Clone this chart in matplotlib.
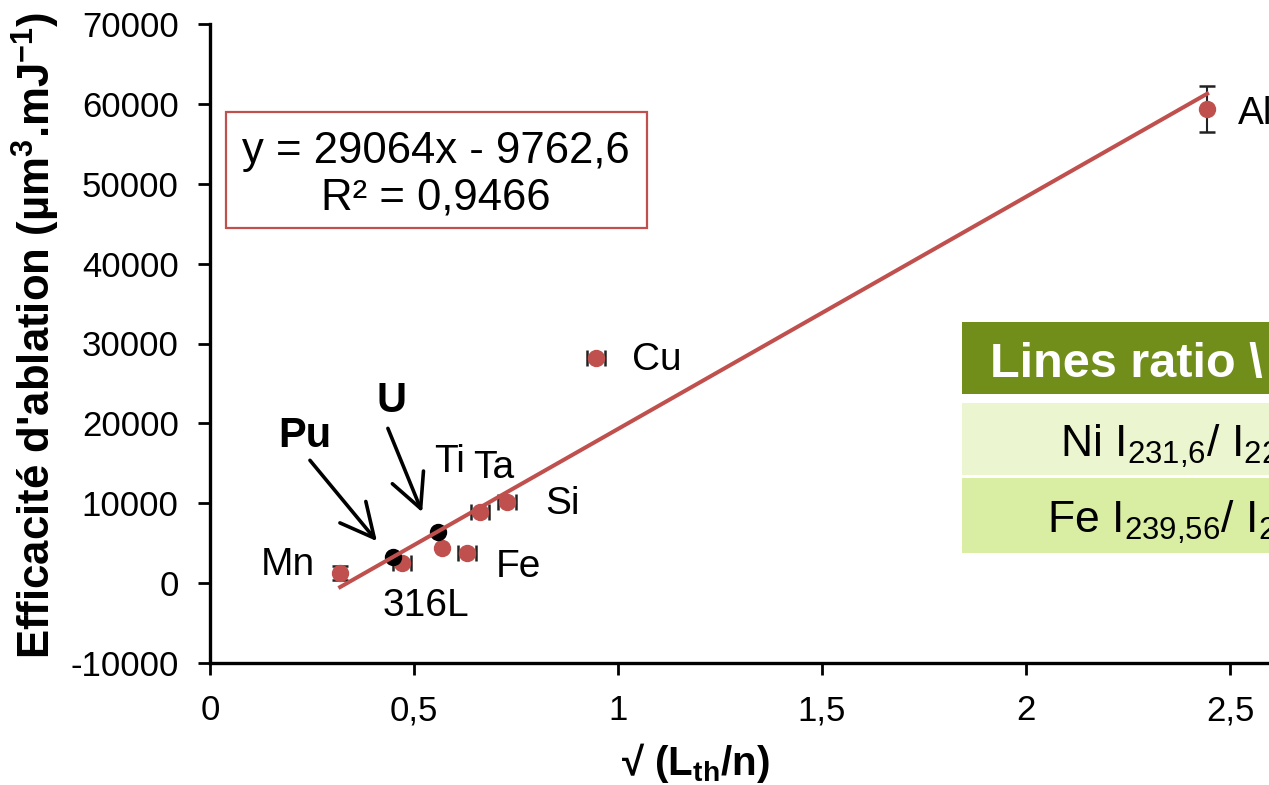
import matplotlib
matplotlib.use("Agg")
import matplotlib.pyplot as plt
from matplotlib.patches import Rectangle
from matplotlib.ticker import FuncFormatter
import numpy as np

W, H = 1269, 785

# data
red_names = ["Mn", "316L", "Ti", "Fe", "Ta", "Si", "Cu", "Al"]
red_x = [0.319, 0.471, 0.569, 0.630, 0.662, 0.728, 0.946, 2.444]
red_y = [1250, 2500, 4375, 3750, 8875, 10125, 28125, 59400]
red_yerr = [900, 0, 0, 0, 0, 0, 0, 2900]
red_xerr = [0, 0.022, 0, 0.022, 0.022, 0.022, 0.022, 0]

black_names = ["Pu", "U"]
black_x = [0.449, 0.559]
black_y = [3250, 6375]

fit_slope = 29064
fit_intercept = -9762.6
fit_r2 = 0.9466

x_ticks = [0, 0.5, 1, 1.5, 2, 2.5]
y_ticks = list(range(-10000, 70001, 10000))

table_header = "Lines ratio \\ Sample"
table_rows = [r"Ni I$_{\mathregular{231{,}6}}$/ I$_{\mathregular{221{,}6}}$",
              r"Fe I$_{\mathregular{239{,}56}}$/ I$_{\mathregular{259{,}9}}$"]

RED = "#C0504D"
plt.rcParams["font.family"] = ["Liberation Sans", "DejaVu Sans"]
plt.rcParams["mathtext.fontset"] = "custom"
plt.rcParams["mathtext.rm"] = "Liberation Sans"
plt.rcParams["mathtext.bf"] = "Liberation Sans:bold"


def fx(x):
    return x / W


def fy(y):
    return 1 - y / H


def comma(v, pos):
    return f"{v:g}".replace(".", ",")


fig = plt.figure(figsize=(W / 100, H / 100), dpi=100)
ax = fig.add_axes([fx(210), 122 / H, 1224 / W, 639 / H])

# points with error bars
for x, y, ye, xe in zip(red_x, red_y, red_yerr, red_xerr):
    ax.errorbar(x, y, yerr=ye if ye else None, xerr=xe if xe else None,
                fmt="none", ecolor="#222222", elinewidth=1.5, capsize=6,
                capthick=1.8, zorder=2)
ax.plot(red_x, red_y, "o", color=RED, markersize=11.5, zorder=3)
ax.plot(black_x, black_y, "o", color="black", markersize=11.5, zorder=3)

# linear trend line
xs = np.array([min(red_x), max(red_x)])
ax.plot(xs, fit_slope * xs + fit_intercept, color=RED, lw=2.9, zorder=4)

# point labels
label_offsets = {"Mn": (-38, 6), "316L": (17, -31), "Fe": (37, -10), "Si": (40, -1),
                 "Ti": (5, 62), "Ta": (10, 32), "Cu": (44, -1), "Al": (22, -4)}
for name, x, y in zip(red_names, red_x, red_y):
    dx, dy = label_offsets[name]
    ha = "left" if name == "Al" else "center"
    ax.annotate(name, (x, y), xytext=(dx, dy), textcoords="offset points",
                ha=ha, va="center", fontsize=28, zorder=5)

# Pu / U arrows
arrow_kw = dict(arrowstyle="->,head_length=1.1,head_width=0.55", color="black",
                lw=2.6, mutation_scale=22, shrinkA=0, shrinkB=0)
ax.annotate("", xy=(0.409, 5250), xytext=(0.245, 15375), arrowprops=arrow_kw)
ax.annotate("", xy=(0.520, 8875), xytext=(0.436, 19375), arrowprops=arrow_kw)
ax.text(0.233, 18375, "Pu", fontsize=30, weight="bold", ha="center", va="center")
ax.text(0.444, 22750, "U", fontsize=30, weight="bold", ha="center", va="center")

ax.set_xlim(0, 3)
ax.set_ylim(-10000, 70000)
ax.set_xticks(x_ticks)
ax.set_yticks(y_ticks)
ax.xaxis.set_major_formatter(FuncFormatter(comma))
ax.yaxis.set_major_formatter(FuncFormatter(lambda v, p: f"{int(v)}"))
ax.tick_params(axis="both", direction="out", length=8.5, width=2, labelsize=25, pad=14)
for side in ["top", "right"]:
    ax.spines[side].set_visible(False)
for side in ["left", "bottom"]:
    ax.spines[side].set_linewidth(2.4)

# axis titles
fig.text(fx(36), fy(335), r"Efficacité d'ablation (µm$^{\mathbf{3}}$.mJ$^{\mathbf{-1}}$)",
         rotation=90, ha="center", va="center", fontsize=31.5, weight="bold")
fig.text(fx(695), fy(763), r"√ (L$_{\mathbf{th}}$/n)", ha="center", va="center",
         fontsize=29, weight="bold")

# equation box
fig.patches.append(Rectangle((fx(226), fy(228)), (647 - 226) / W, (228 - 112) / H,
                             transform=fig.transFigure, fill=False, ec=RED, lw=1.6))
fig.text(fx(436), fy(152), f"y = {fit_slope}x - {abs(fit_intercept):g}".replace(".", ","),
         ha="center", va="center", fontsize=31.5)
fig.text(fx(436), fy(198), f"R² = {fit_r2}".replace(".", ","),
         ha="center", va="center", fontsize=31.5)

# table (cropped on the right)
for top, bottom, color in [(322, 394, "#718E1B"), (403, 475, "#EBF5D0"), (478, 553, "#D9EDA3")]:
    fig.patches.append(Rectangle((fx(962), fy(bottom)), 400 / W, (bottom - top) / H,
                                 transform=fig.transFigure, color=color, lw=0))
fig.text(fx(990), fy(377), table_header, color="white", weight="bold", fontsize=35,
         va="baseline", ha="left")
fig.text(fx(1060), fy(457), table_rows[0], fontsize=32, va="baseline", ha="left")
fig.text(fx(1047), fy(533), table_rows[1], fontsize=32, va="baseline", ha="left")

fig.savefig("out.png", dpi=100)
